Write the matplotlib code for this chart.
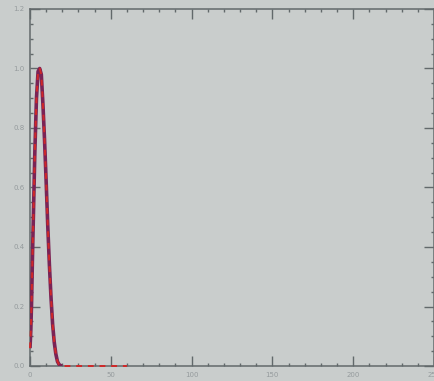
import numpy as np
import matplotlib
matplotlib.use('Agg')
from matplotlib import pyplot as plt
from matplotlib.ticker import MultipleLocator

# profile
x = [0, 0.5, 1, 1.5, 2, 3, 4, 5, 6, 7, 8, 9, 10, 11, 12, 13, 14, 15, 16, 17, 18, 19, 20]
y_model = [0.06, 0.12, 0.22, 0.36, 0.48, 0.72, 0.90, 0.99, 1.00, 0.98, 0.88, 0.76, 0.62,
           0.47, 0.34, 0.23, 0.14, 0.08, 0.04, 0.015, 0.005, 0.001, 0.0]
x_fit = x + [30, 40, 50, 60]
y_fit = y_model + [0.0, 0.0, 0.0, 0.0]

bg = '#c9cdcc'
axis_col = '#62696b'
label_col = '#959b9d'

fig = plt.figure(figsize=(4.35, 3.81), dpi=100)
fig.patch.set_facecolor(bg)
ax = fig.add_axes([30 / 435, 15 / 381, 404 / 435, 357 / 381])
ax.set_facecolor(bg)

ax.plot(x, y_model, color='#7a2456', lw=2.6, solid_capstyle='butt', zorder=3)
ax.plot(x_fit, y_fit, color='#d02828', lw=1.4, ls=(0, (3, 3)), zorder=4, clip_on=False)

ax.set_xlim(0, 250)
ax.set_ylim(0, 1.2)
ax.xaxis.set_major_locator(MultipleLocator(50))
ax.xaxis.set_minor_locator(MultipleLocator(10))
ax.yaxis.set_major_locator(MultipleLocator(0.2))
ax.yaxis.set_minor_locator(MultipleLocator(0.05))
ax.yaxis.set_major_formatter(plt.FuncFormatter(lambda v, p: f'{v:.1f}'))

for s in ax.spines.values():
    s.set_color(axis_col)
    s.set_linewidth(1.1)
ax.tick_params(which='both', direction='in', top=True, right=True, color=axis_col,
               labelcolor=label_col, labelsize=5, pad=4)
ax.tick_params(which='major', length=7, width=1.0)
ax.tick_params(which='minor', length=2.5, width=1.0)

fig.savefig('out.png', dpi=100, facecolor=bg)
